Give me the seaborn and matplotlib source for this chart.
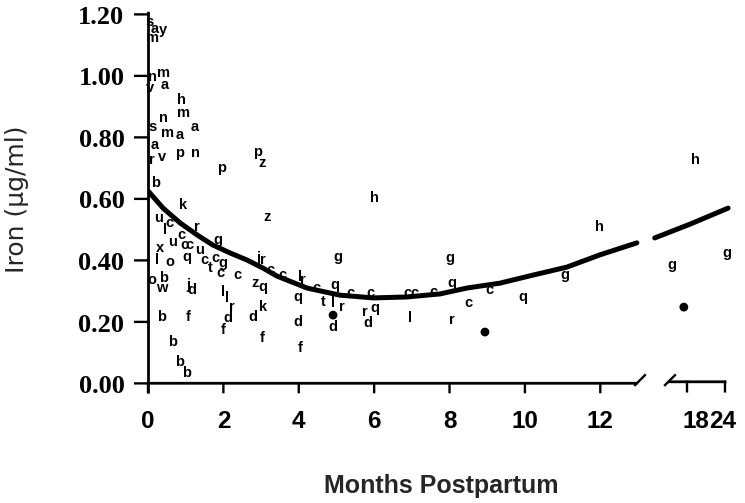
import numpy as np
import pandas as pd
import matplotlib
matplotlib.use("Agg")
import matplotlib.pyplot as plt
from matplotlib.lines import Line2D
import seaborn as sns

# letter-coded subjects: months postpartum vs milk iron (ug/ml)
letters = ["s", "a", "y", "m", "n", "m", "v", "a", "h", "m",
           "n", "s", "m", "a", "a", "a", "r", "v", "p", "n",
           "p", "p", "z", "b", "k", "z", "u", "c", "r", "l",
           "u", "c", "g", "x", "c", "c", "q", "u", "c", "c",
           "g", "t", "c", "c", "l", "o", "j", "r", "c", "o",
           "b", "w", "j", "d", "l", "l", "r", "z", "q", "k",
           "d", "d", "f", "b", "f", "b", "f", "b", "b", "h",
           "g", "c", "l", "r", "c", "q", "c", "c", "c", "c",
           "c", "q", "t", "l", "r", "r", "q", "d", "d", "d",
           "f", "l", "g", "q", "c", "c", "r", "q", "g", "h",
           "h", "g", "g"]
months = [0.05, 0.19, 0.40, 0.11, 0.11, 0.40, 0.05, 0.45, 0.90, 0.93,
          0.40, 0.11, 0.53, 0.85, 1.25, 0.19, 0.11, 0.37, 0.85, 1.25,
          1.96, 2.92, 3.02, 0.19, 0.93, 3.16, 0.27, 0.58, 1.30, 0.45,
          0.64, 0.90, 1.86, 0.32, 0.98, 1.11, 1.03, 1.38, 1.51, 1.78,
          1.99, 1.64, 1.91, 2.36, 0.24, 0.58, 2.92, 3.05, 3.24, 0.11,
          0.40, 0.37, 1.06, 1.17, 1.99, 2.10, 2.23, 2.84, 3.05, 3.05,
          2.79, 2.12, 1.99, 0.37, 1.06, 0.66, 3.02, 0.85, 1.03, 6.02,
          5.04, 3.58, 4.03, 4.11, 4.48, 4.96, 5.36, 5.89, 6.87, 7.08,
          7.56, 3.98, 4.64, 4.91, 5.15, 5.76, 6.02, 5.84, 4.91, 3.98,
          4.03, 6.95, 8.01, 8.06, 8.49, 9.07, 8.06, 9.95, 11.06, 11.99,
          19.3, 15.6, 24.3]
iron = [1.177, 1.154, 1.151, 1.125, 0.998, 1.011, 0.963, 0.972, 0.924, 0.881,
        0.865, 0.836, 0.816, 0.810, 0.836, 0.777, 0.728, 0.738, 0.751, 0.751,
        0.702, 0.754, 0.719, 0.654, 0.582, 0.543, 0.540, 0.524, 0.511, 0.501,
        0.462, 0.485, 0.468, 0.442, 0.452, 0.452, 0.413, 0.436, 0.403, 0.410,
        0.393, 0.377, 0.361, 0.354, 0.403, 0.397, 0.410, 0.403, 0.371, 0.338,
        0.345, 0.312, 0.322, 0.306, 0.299, 0.280, 0.250, 0.328, 0.315, 0.250,
        0.218, 0.215, 0.176, 0.218, 0.218, 0.137, 0.150, 0.072, 0.036, 0.605,
        0.413, 0.354, 0.348, 0.338, 0.312, 0.322, 0.296, 0.296, 0.296, 0.296,
        0.299, 0.283, 0.267, 0.263, 0.250, 0.234, 0.247, 0.198, 0.185, 0.202,
        0.117, 0.215, 0.410, 0.328, 0.263, 0.306, 0.208, 0.283, 0.354, 0.511,
        0.728, 0.387, 0.426]

# filled circles
dot_months = [4.91, 8.94, 17.5]
dot_iron = [0.224, 0.169, 0.250]

# fitted curve
curve_months = [0.00, 0.40, 0.85, 1.30, 1.72, 2.18, 2.63, 3.05, 3.42, 4.22,
                5.09, 5.97, 6.87, 7.75, 8.46, 9.34, 10.21, 11.11, 11.99, 12.97]
curve_iron = [0.628, 0.572, 0.524, 0.485, 0.452, 0.426, 0.403, 0.377, 0.351, 0.312,
              0.289, 0.280, 0.283, 0.293, 0.312, 0.328, 0.354, 0.380, 0.420, 0.459]
late_curve_months = [12.9, 18.5, 24.5]
late_curve_iron = [0.475, 0.520, 0.572]

x_ticks = [0, 2, 4, 6, 8, 10, 12]
late_ticks = [18, 24]
y_ticks = [0.0, 0.2, 0.4, 0.6, 0.8, 1.0, 1.2]

sns.set_style("ticks")
plt.rcParams['font.family'] = ['Liberation Sans', 'DejaVu Sans']

df = pd.DataFrame({"letter": letters, "month": months, "iron": iron})
dots = pd.DataFrame({"month": dot_months, "iron": dot_iron})
curve = pd.DataFrame({"month": curve_months, "iron": curve_iron})
late_curve = pd.DataFrame({"month": late_curve_months, "iron": late_curve_iron})

W, H = 745, 503
fig = plt.figure(figsize=(W / 100, H / 100), dpi=100)
ax = fig.add_axes([148 / W, 119 / H, 493 / W, 369 / H])
ax2 = fig.add_axes([652 / W, 119 / H, 80 / W, 369 / H])

panels = [(ax, 0, 13.08, curve), (ax2, 13.5, 25.11, late_curve)]
for a, lo, hi, c in panels:
    part = df[(df.month >= lo) & (df.month <= hi)]
    for _, row in part.iterrows():
        a.text(row.month, row.iron, row.letter, ha="center", va="center",
               fontsize=10.5, fontweight="bold", color="black")
    sub = dots[(dots.month >= lo) & (dots.month <= hi)]
    sns.scatterplot(data=sub, x="month", y="iron", ax=a, color="black",
                    s=40, edgecolor="none", legend=False)
    sns.lineplot(data=c, x="month", y="iron", ax=a, color="black",
                 linewidth=3.6, sort=False, legend=False)
    a.set_ylim(0, 1.2)
    a.set_xlabel("")
    a.set_ylabel("")
    for s in a.spines.values():
        s.set_visible(False)
    a.tick_params(length=0)

ax.set_xlim(0, 13.08)
ax2.set_xlim(12.47, 25.11)


def frame_line(xs, ys, tr, lw=2.0):
    # axis pieces added at figure level, on top of everything
    fig.add_artist(Line2D(xs, ys, transform=tr, color="black", lw=lw,
                          zorder=50, solid_capstyle="projecting",
                          snap=False, antialiased=True))


frame_line([0, 0.99], [0.002, 0.002], ax.transAxes)
frame_line([0.001, 0.001], [-0.022, 1.005], ax.transAxes)
for t in x_ticks:
    frame_line([t, t], [0.002, -0.022], ax.get_xaxis_transform(), 1.7)
for v in y_ticks:
    frame_line([-0.026, 0.001], [v + 0.002, v + 0.002], ax.get_yaxis_transform(), 1.7)
frame_line([15.3, 24], [0.006, 0.006], ax2.get_xaxis_transform())
for t in late_ticks:
    frame_line([t, t], [0.006, -0.02], ax2.get_xaxis_transform(), 1.7)
# break marks
frame_line([0.988, 1.008], [-0.003, 0.024], ax.transAxes, 1.7)
frame_line([0.1625, 0.2875], [-0.003, 0.024], ax2.transAxes, 1.7)

# tick labels
ax.set_xticks(x_ticks)
ax.set_xticklabels([str(t) for t in x_ticks], fontsize=17.5, fontweight="bold")
ax.set_yticks(y_ticks)
ax.set_yticklabels([f"{v:.2f}" for v in y_ticks], fontsize=19,
                   fontweight="bold", family="Liberation Serif")
ax.tick_params(axis="x", pad=19, labelcolor="black")
ax.tick_params(axis="y", pad=17, labelcolor="black")
ax2.set_yticks([])
ax2.set_xticks([19.4, 23.6])
ax2.set_xticklabels([str(t) for t in late_ticks], fontsize=17.5, fontweight="bold")
ax2.tick_params(axis="x", pad=19, labelcolor="black")

fig.text(17 / W, 1 - 199 / H, "Iron (µg/ml)", rotation=90, ha="center",
         va="center", fontsize=18, family="DejaVu Sans")
fig.text(441 / W, 1 - 486 / H, "Months Postpartum", ha="center", va="center",
         fontsize=18, fontweight="bold")

fig.savefig("out.png", dpi=100)
